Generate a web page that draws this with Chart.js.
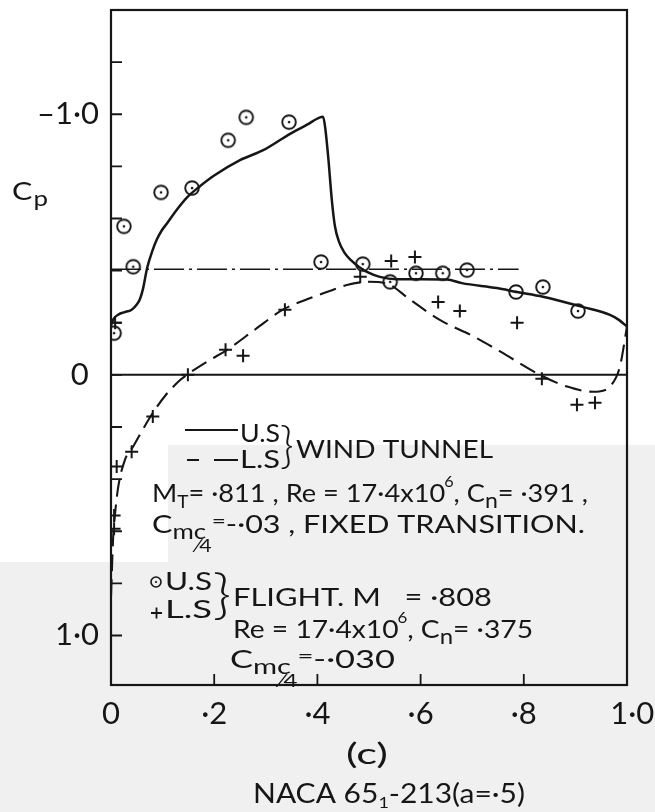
<!DOCTYPE html>
<html>
<head>
<meta charset="utf-8">
<script src="https://cdn.jsdelivr.net/npm/chart.js@4.4.1/dist/chart.umd.min.js"></script>
<style>
  html, body { margin: 0; padding: 0; background: #fff; }
  #wrap { position: relative; width: 655px; height: 812px; overflow: hidden; }
  /* scanned page tone in the lower half */
  .tone { position: absolute; background: #f0f0f0; }
  #toneA { left: 168px; top: 445px; right: 0; bottom: 0; }
  #toneB { left: 0; top: 562px; width: 168px; bottom: 0; }
  canvas { position: absolute; left: 0; top: 0; }
</style>
</head>
<body>
<div id="wrap">
  <div class="tone" id="toneA"></div>
  <div class="tone" id="toneB"></div>
  <canvas id="chart" width="655" height="812"></canvas>
</div>
<script>
// =======================
// DATA  (x/c, Cp)
// =======================

// wind tunnel, upper surface (solid)
const tunnelUpper = [
  [0, -0.19], [0.005, -0.215], [0.015, -0.232], [0.025, -0.24], [0.04, -0.25],
  [0.05, -0.27], [0.056, -0.29], [0.062, -0.33], [0.07, -0.41], [0.08, -0.475],
  [0.089, -0.52], [0.098, -0.553], [0.108, -0.58], [0.125, -0.627], [0.147, -0.68],
  [0.17, -0.72], [0.2, -0.765], [0.25, -0.824], [0.295, -0.862], [0.347, -0.925],
  [0.38, -0.96], [0.405, -0.988], [0.411, -0.99], [0.415, -0.95], [0.421, -0.835],
  [0.428, -0.67], [0.434, -0.57], [0.442, -0.51], [0.452, -0.47], [0.465, -0.44],
  [0.48, -0.415], [0.496, -0.395], [0.521, -0.376], [0.554, -0.367], [0.6, -0.367],
  [0.651, -0.366], [0.68, -0.352], [0.748, -0.333], [0.787, -0.318], [0.837, -0.30],
  [0.915, -0.26], [0.967, -0.23], [0.985, -0.21], [1.0, -0.185]
];

// wind tunnel, lower surface (dashed)
const tunnelLower = [
  [0, 0.85], [0.002, 0.735], [0.004, 0.63], [0.008, 0.53], [0.014, 0.43],
  [0.027, 0.326], [0.043, 0.275], [0.06, 0.215], [0.081, 0.146], [0.105, 0.08],
  [0.134, 0.02], [0.147, 0.0], [0.19, -0.055], [0.225, -0.096], [0.28, -0.175],
  [0.333, -0.25], [0.38, -0.29], [0.424, -0.322], [0.457, -0.345], [0.5, -0.357],
  [0.535, -0.35], [0.58, -0.288], [0.638, -0.21], [0.7, -0.15], [0.754, -0.09],
  [0.831, 0.0], [0.884, 0.045], [0.934, 0.065], [0.955, 0.06], [0.967, 0.045],
  [0.986, -0.03], [1.0, -0.185]
];

// flight, upper surface (circles)
const flightUpper = [
  [0.006, -0.16], [0.025, -0.57], [0.043, -0.415], [0.097, -0.70], [0.157, -0.717],
  [0.227, -0.90], [0.262, -0.988], [0.345, -0.97], [0.407, -0.433], [0.488, -0.425],
  [0.541, -0.357], [0.591, -0.39], [0.643, -0.39], [0.69, -0.402], [0.785, -0.318],
  [0.837, -0.337], [0.905, -0.245]
];

// flight, lower surface (crosses)
const flightLower = [
  [0.008, -0.2], [0.006, 0.54], [0.006, 0.59], [0.011, 0.352], [0.04, 0.295],
  [0.081, 0.16], [0.149, 0.0], [0.222, -0.096], [0.256, -0.073], [0.337, -0.25],
  [0.483, -0.376], [0.543, -0.437], [0.589, -0.452], [0.634, -0.28], [0.676, -0.245],
  [0.787, -0.2], [0.835, 0.015], [0.903, 0.115], [0.938, 0.107]
];

// reference lines
const zeroLine = [[0, 0], [1, 0]];
const sonicLine = [[0, -0.405], [0.79, -0.405]];

// axis tick labels (spaces nudge a couple of labels the way the plate sets them)
const xTickText = { '0': '0', '0.2': '·2', '0.4': '·4', '0.6': '·6', '0.8': '·8', '1': '\u20041·0' };
const yTickText = { '-1': '–1·0', '0': '0\u2004', '1': '1·0' };

// =======================
// HELPERS
// =======================
const FONT = 'Lato';
const INK = '#161616';

const pts = arr => arr.map(p => ({ x: p[0], y: p[1] }));

// circle-with-dot marker
function dotCircle(r) {
  const c = document.createElement('canvas');
  const s = Math.ceil(r * 2 + 4);
  c.width = s; c.height = s;
  const g = c.getContext('2d');
  g.strokeStyle = INK; g.fillStyle = INK; g.lineWidth = 1.9;
  g.beginPath(); g.arc(s / 2, s / 2, r, 0, Math.PI * 2); g.stroke();
  g.beginPath(); g.arc(s / 2, s / 2, 1.3, 0, Math.PI * 2); g.fill();
  return c;
}

// text run with sub/superscripts, squeezed to a set width
// seg = [text, sizeFactor, dy, dx]
function richText(ctx, x, base, width, size, segs) {
  let total = 0;
  segs.forEach(s => {
    ctx.font = (size * (s[1] || 1)) + 'px ' + FONT;
    total += ctx.measureText(s[0]).width + (s[3] || 0);
  });
  ctx.save();
  ctx.translate(x, base);
  ctx.scale(width / total, 1);
  ctx.textAlign = 'left';
  ctx.textBaseline = 'alphabetic';
  let cx = 0;
  segs.forEach(s => {
    ctx.font = (size * (s[1] || 1)) + 'px ' + FONT;
    cx += (s[3] || 0);
    ctx.fillText(s[0], cx, s[2] || 0);
    cx += ctx.measureText(s[0]).width;
  });
  ctx.restore();
}

// a single glyph stretched into a box (used for the braces)
function boxGlyph(ctx, ch, x0, y0, x1, y1) {
  ctx.save();
  ctx.font = '300 40px ' + FONT;
  const m = ctx.measureText(ch);
  const w = m.actualBoundingBoxLeft + m.actualBoundingBoxRight;
  const h = m.actualBoundingBoxAscent + m.actualBoundingBoxDescent;
  ctx.translate(x0, y0);
  ctx.scale((x1 - x0) / w, (y1 - y0) / h);
  ctx.textAlign = 'left';
  ctx.textBaseline = 'alphabetic';
  ctx.fillText(ch, m.actualBoundingBoxLeft, m.actualBoundingBoxAscent);
  ctx.restore();
}

// scales: no extra room for the end labels, the frame sits at fixed edges
function noEndPadding(s) {
  s.paddingTop = 0; s.paddingBottom = 0;
  s.paddingLeft = 0; s.paddingRight = 0;
}

// =======================
// PLUGIN: frame, inward ticks, notes
// =======================
const figureNotes = {
  id: 'figureNotes',
  beforeDatasetsDraw(chart) {
    const { ctx, chartArea: a, scales } = chart;
    ctx.save();
    ctx.strokeStyle = INK;
    ctx.lineWidth = 2.2;
    ctx.strokeRect(a.left, a.top, a.right - a.left, a.bottom - a.top);

    ctx.lineWidth = 1.8;
    ctx.beginPath();
    scales.y.ticks.forEach(t => {
      const py = scales.y.getPixelForValue(t.value);
      if (py <= a.top + 2 || py >= a.bottom - 2) return;
      ctx.moveTo(a.left, py); ctx.lineTo(a.left + 11, py);
    });
    scales.x.ticks.forEach(t => {
      const px = scales.x.getPixelForValue(t.value);
      if (px <= a.left + 2 || px >= a.right - 2) return;
      ctx.moveTo(px, a.bottom); ctx.lineTo(px, a.bottom - 11);
    });
    ctx.stroke();
    ctx.restore();
  },
  afterDraw(chart) {
    const ctx = chart.ctx;
    ctx.save();
    ctx.fillStyle = INK;
    ctx.strokeStyle = INK;

    // axis name
    richText(ctx, 12, 200, 36, 25, [['C'], ['p', 0.85, 6, 1]]);

    // wind tunnel key
    ctx.lineWidth = 2;
    ctx.beginPath(); ctx.moveTo(185, 430); ctx.lineTo(238, 430); ctx.stroke();
    ctx.beginPath(); ctx.moveTo(187, 460); ctx.lineTo(199, 460);
    ctx.moveTo(214, 460); ctx.lineTo(238, 460); ctx.stroke();
    richText(ctx, 240, 442, 40, 25, [['U.S']]);
    richText(ctx, 240, 468, 40, 25, [['L.S']]);
    boxGlyph(ctx, '}', 281, 424, 293, 469);
    richText(ctx, 296, 458, 197, 25, [['WIND TUNNEL']]);

    richText(ctx, 152, 502, 436, 25, [
      ['M'], ['T', 0.7, 6], ['= ·811 , Re = 17·4x10'], ['6', 0.6, -15, -1],
      [', C'], ['n', 0.85, 6], ['= ·391 ,']
    ]);
    richText(ctx, 152, 533, 433, 25, [
      ['C'], ['mc', 0.85, 6], ['⁄4', 0.7, 19, -8], ['=', 0.8, -5],
      ['-·03 , FIXED TRANSITION.']
    ]);

    // flight key
    ctx.lineWidth = 1.6;
    ctx.beginPath(); ctx.arc(156, 582, 5, 0, Math.PI * 2); ctx.stroke();
    ctx.beginPath(); ctx.arc(156, 582, 1.1, 0, Math.PI * 2); ctx.fill();
    ctx.lineWidth = 1.8;
    ctx.beginPath(); ctx.moveTo(151, 613); ctx.lineTo(162, 613);
    ctx.moveTo(156.5, 607.5); ctx.lineTo(156.5, 618.5); ctx.stroke();
    richText(ctx, 165, 590, 47, 25, [['U.S']]);
    richText(ctx, 165, 618, 47, 25, [['L.S']]);
    boxGlyph(ctx, '}', 214, 572, 230, 621);
    richText(ctx, 233, 606, 259, 25, [['FLIGHT. M   = ·808']]);
    richText(ctx, 233, 638, 300, 25, [
      ['Re = 17·4x10'], ['6', 0.6, -15, -1], [', C'], ['n', 0.85, 6], ['= ·375']
    ]);
    richText(ctx, 230, 668, 165, 25, [
      ['C'], ['mc', 0.85, 6], ['⁄4', 0.7, 19, -8], ['=', 0.8, -5], ['-·030']
    ]);

    // caption
    richText(ctx, 346, 764, 42, 28, [['(c)']]);
    richText(ctx, 253, 803, 272, 27, [
      ['NACA 65'], ['1', 0.6, 5], ['-213(a=·5)']
    ]);
    ctx.restore();
  }
};

// =======================
// CHART
// =======================
const ctx = document.getElementById('chart').getContext('2d');

new Chart(ctx, {
  type: 'scatter',
  data: {
    datasets: [
      {
        label: 'Flight U.S',
        data: pts(flightUpper),
        pointStyle: dotCircle(6.8),
        pointRadius: 8,
        showLine: false
      },
      {
        label: 'Flight L.S',
        data: pts(flightLower),
        pointStyle: 'cross',
        pointRadius: 6.5,
        pointBorderWidth: 2,
        borderColor: INK,
        backgroundColor: INK,
        showLine: false
      },
      {
        label: 'Wind tunnel U.S',
        data: pts(tunnelUpper),
        showLine: true,
        borderColor: INK,
        borderWidth: 2.5,
        pointRadius: 0,
        cubicInterpolationMode: 'monotone'
      },
      {
        label: 'Wind tunnel L.S',
        data: pts(tunnelLower),
        showLine: true,
        borderColor: INK,
        borderWidth: 2.1,
        borderDash: [17, 8],
        pointRadius: 0,
        cubicInterpolationMode: 'monotone'
      },
      {
        label: 'Cp = 0',
        data: pts(zeroLine),
        showLine: true,
        borderColor: INK,
        borderWidth: 2,
        pointRadius: 0
      },
      {
        label: 'Sonic Cp',
        data: pts(sonicLine),
        showLine: true,
        borderColor: INK,
        borderWidth: 1.6,
        borderDash: [30, 5, 3, 5],
        pointRadius: 0
      }
    ]
  },
  options: {
    responsive: false,
    animation: false,
    layout: { autoPadding: false, padding: { top: 10, right: 28, left: 0, bottom: 0 } },
    plugins: {
      legend: { display: false },
      tooltip: { enabled: false }
    },
    scales: {
      x: {
        type: 'linear',
        min: 0,
        max: 1,
        grid: { display: false, drawTicks: false },
        border: { display: false },
        afterFit: s => { s.height = 127; noEndPadding(s); },
        ticks: {
          stepSize: 0.2,
          padding: 10,
          color: INK,
          font: { family: FONT, size: 31 },
          maxRotation: 0,
          callback: v => xTickText[String(Math.round(v * 10) / 10)] || ''
        }
      },
      y: {
        type: 'linear',
        reverse: true,
        min: -1.4,
        max: 1.19,
        grid: { display: false, drawTicks: false },
        border: { display: false },
        afterFit: s => { s.width = 111; noEndPadding(s); },
        ticks: {
          stepSize: 0.2,
          includeBounds: false,
          autoSkip: false,
          padding: 12,
          color: INK,
          font: { family: FONT, size: 31 },
          callback: v => yTickText[String(Math.round(v * 10) / 10)] || ''
        }
      }
    }
  },
  plugins: [figureNotes]
});
</script>
</body>
</html>
